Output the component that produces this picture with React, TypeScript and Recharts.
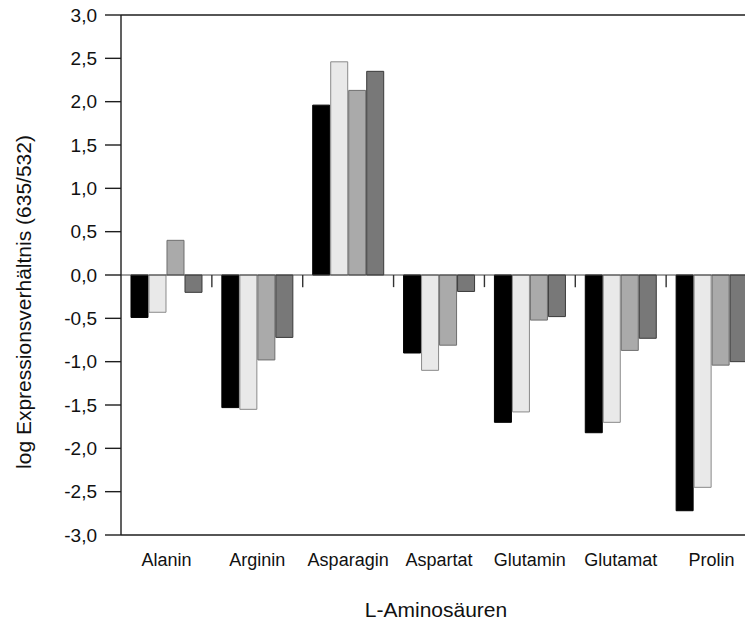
import React from "react";
import { BarChart, Bar, XAxis, YAxis, ReferenceLine, Label } from "recharts";

const categories = ["Alanin", "Arginin", "Asparagin", "Aspartat", "Glutamin", "Glutamat", "Prolin"];

// log ratio per amino acid, one array per condition
const seriesBlack = [-0.49, -1.53, 1.96, -0.9, -1.7, -1.82, -2.72];
const seriesLight = [-0.43, -1.55, 2.46, -1.1, -1.58, -1.7, -2.45];
const seriesMid = [0.4, -0.98, 2.13, -0.81, -0.52, -0.87, -1.04];
const seriesDark = [-0.2, -0.72, 2.35, -0.19, -0.48, -0.73, -1.0];

const yTicks = [-3, -2.5, -2, -1.5, -1, -0.5, 0, 0.5, 1, 1.5, 2, 2.5, 3];
const groupBounds = [1, 2, 3, 4, 5, 6];

const data = categories.map((name, i) => ({
  name,
  idx: i,
  black: seriesBlack[i],
  light: seriesLight[i],
  mid: seriesMid[i],
  dark: seriesDark[i],
}));

const fmt = (v: number) => v.toFixed(1).replace(".", ",");

function YTitle(props: any) {
  const vb = props.viewBox || { x: 0, y: 0, width: 0, height: 0 };
  const cx = vb.x + 31;
  const cy = vb.y + vb.height / 2 + 27;
  return (
    <text
      x={cx}
      y={cy}
      transform={`rotate(-90 ${cx} ${cy})`}
      textAnchor="middle"
      fontSize={21}
      fill="#111"
    >
      log Expressionsverhältnis (635/532)
    </text>
  );
}

export default function App() {
  const axisStroke = { stroke: "#1e1e1e", strokeWidth: 1.4 };
  return (
    <div
      style={{
        width: 745,
        height: 622,
        overflow: "hidden",
        background: "#fff",
        fontFamily: "'Liberation Sans', Arial, sans-serif",
      }}
    >
      <style>{"body{margin:0}"}</style>
      {/* plot runs a little past the right edge, so the last group is clipped */}
      <BarChart
        width={757}
        height={622}
        data={data}
        margin={{ top: 15, right: 0, bottom: 0, left: 0 }}
        barCategoryGap="11%"
        barGap={1}
      >
        <XAxis
          xAxisId="cat"
          dataKey="name"
          type="category"
          interval={0}
          tickLine={false}
          tickSize={0}
          tickMargin={18}
          height={87}
          axisLine={axisStroke}
          tick={{ fill: "#111", fontSize: 18 }}
        >
          <Label
            value="L-Aminosäuren"
            position="insideBottom"
            offset={5}
            dx={-3}
            style={{ fontSize: 21, fill: "#111" }}
          />
        </XAxis>
        <XAxis xAxisId="bounds" dataKey="idx" type="number" domain={[0, 7]} hide height={0} allowDataOverflow />
        <YAxis
          domain={[-3, 3]}
          ticks={yTicks}
          interval={0}
          width={121}
          tickFormatter={fmt}
          tickSize={16}
          tickMargin={8}
          axisLine={axisStroke}
          tickLine={axisStroke}
          tick={{ fill: "#111", fontSize: 19 }}
          label={<YTitle />}
        />
        <Bar xAxisId="cat" dataKey="black" fill="#000000" stroke="#000000" strokeWidth={1} isAnimationActive={false} />
        <Bar xAxisId="cat" dataKey="light" fill="#e9e9e9" stroke="#8a8a8a" strokeWidth={1} isAnimationActive={false} />
        <Bar xAxisId="cat" dataKey="mid" fill="#aaaaaa" stroke="#6e6e6e" strokeWidth={1} isAnimationActive={false} />
        <Bar xAxisId="cat" dataKey="dark" fill="#787878" stroke="#3a3a3a" strokeWidth={1} isAnimationActive={false} />
        <ReferenceLine y={3} xAxisId="cat" stroke="#1e1e1e" strokeWidth={1.4} />
        <ReferenceLine y={0} xAxisId="cat" stroke="#444" strokeWidth={1} />
        {groupBounds.map((b) => (
          <ReferenceLine
            key={b}
            xAxisId="bounds"
            segment={[
              { x: b, y: 0 },
              { x: b, y: -0.14 },
            ]}
            stroke="#333"
            strokeWidth={1.4}
          />
        ))}
      </BarChart>
    </div>
  );
}
